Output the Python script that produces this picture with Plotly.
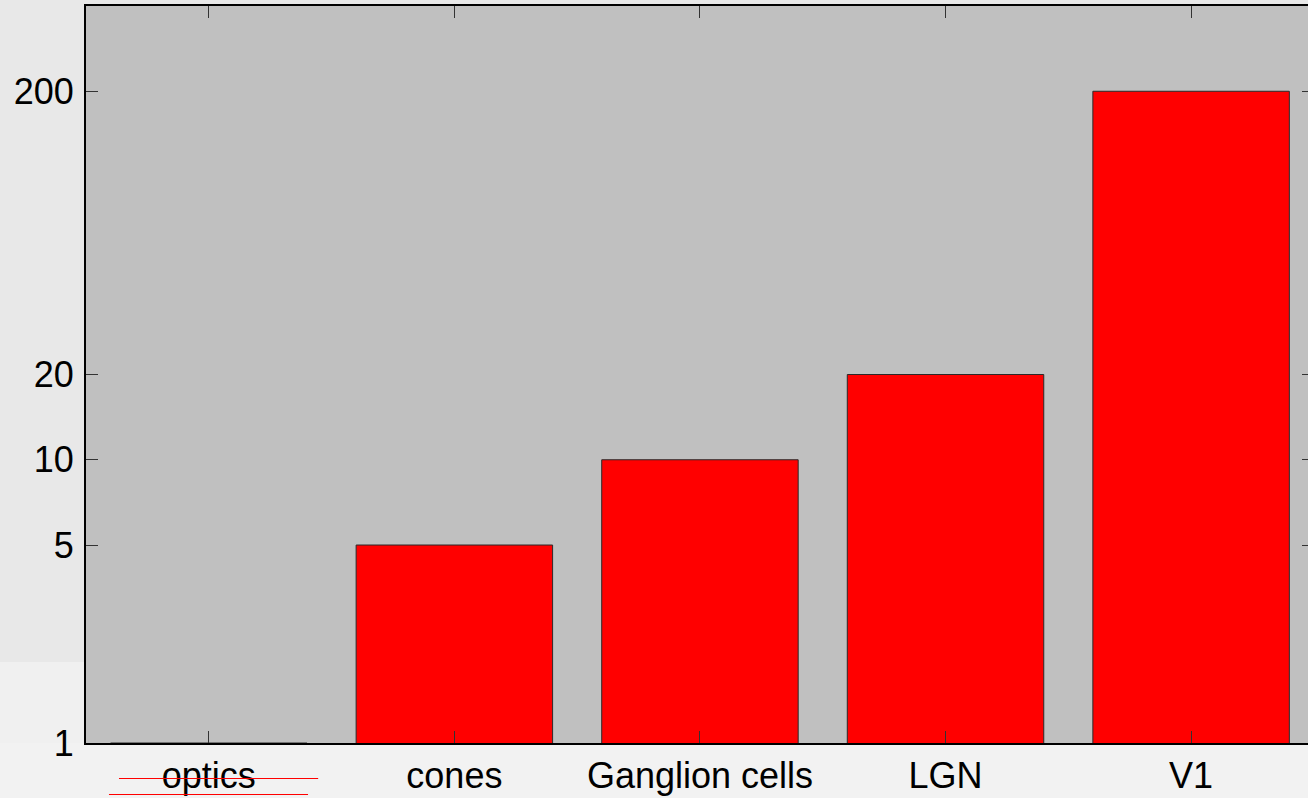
import numpy as np
import plotly.graph_objects as go

# Stages of the visual pathway and their values (log scale)
stages = ["optics", "cones", "Ganglion cells", "LGN", "V1"]
values = [1, 5, 10, 20, 200]
ytick_vals = [1, 5, 10, 20, 200]
ytick_text = ["1", "5", "10", "20", "200"]

FONT = "Liberation Sans, Arial, sans-serif"
FS = 36
W, H = 1308, 798
L, T, B = 86, 6, 55

fig = go.Figure()
fig.add_trace(go.Bar(
    x=stages, y=values, width=0.8,
    marker=dict(color="#ff0000", line=dict(color="#2a2a2a", width=1)),
    showlegend=False,
))
# invisible trace on the right-hand y axis so its ticks are drawn
fig.add_trace(go.Scatter(x=stages, y=values, yaxis="y2", mode="markers",
                         marker=dict(opacity=0), showlegend=False, hoverinfo="skip"))

yrange = [0, np.log10(400)]

fig.update_layout(
    width=W, height=H,
    margin=dict(l=L, r=0, t=T, b=B, autoexpand=False),
    paper_bgcolor="#e8e8e8",
    plot_bgcolor="#c0c0c0",
    font=dict(family=FONT, size=FS, color="#000000"),
    bargap=0.2,
    xaxis=dict(
        range=[-0.5, 4.476], automargin=False,
        showline=True, linecolor="#000000", linewidth=2,
        mirror="ticks",
        ticks="inside", ticklen=12, tickcolor="#333333", tickwidth=1,
        showgrid=False, zeroline=False,
        ticklabelstandoff=0,
        tickfont=dict(family=FONT, size=FS, color="#000000"),
    ),
    yaxis=dict(
        type="log", range=yrange, automargin=False,
        tickvals=ytick_vals, ticktext=ytick_text,
        showline=True, linecolor="#000000", linewidth=2,
        ticks="inside", ticklen=12, tickcolor="#333333", tickwidth=1,
        showgrid=False, zeroline=False,
        ticklabelstandoff=3,
        tickfont=dict(family=FONT, size=FS, color="#000000"),
    ),
    yaxis2=dict(
        type="log", range=yrange, overlaying="y", side="right",
        tickvals=ytick_vals, showticklabels=False, automargin=False,
        showline=False, ticks="inside", ticklen=6,
        tickcolor="#333333", tickwidth=1,
        showgrid=False, zeroline=False,
    ),
)

# lighter backdrop below and to the lower left of the axes
fig.add_shape(type="rect", xref="paper", yref="paper",
              x0=-0.1, x1=1.02, y0=-0.1, y1=0, layer="below",
              fillcolor="#f2f2f2", line=dict(width=0))
fig.add_shape(type="rect", xref="paper", yref="paper",
              x0=-0.1, x1=0, y0=0, y1=0.11, layer="below",
              fillcolor="#f0f0f0", line=dict(width=0))

# red strike lines across the first category label
fig.add_shape(type="line", xref="paper", yref="paper",
              x0=0.027, x1=0.19, y0=-0.04817, y1=-0.04817,
              line=dict(color="#ff0000", width=1))
fig.add_shape(type="line", xref="paper", yref="paper",
              x0=0.0188, x1=0.1817, y0=-0.06988, y1=-0.06988,
              line=dict(color="#ff0000", width=1))

fig.write_html("out.html")
